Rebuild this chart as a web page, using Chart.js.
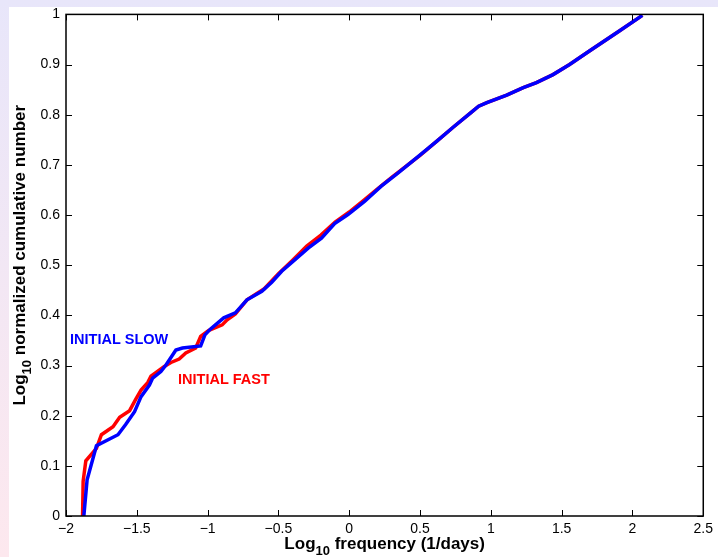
<!DOCTYPE html>
<html>
<head>
<meta charset="utf-8">
<title>Cumulative number vs frequency</title>
<script src="https://cdn.jsdelivr.net/npm/chart.js@4"></script>
<style>
    html, body { margin: 0; padding: 0; background: #ffffff; }
    #wrap { width: 718px; height: 557px; }
</style>
</head>
<body>
<div id="wrap"><canvas id="freqChart" width="718" height="557"></canvas></div>
<script>
// Tick values
const xTicks = [-2, -1.5, -1, -0.5, 0, 0.5, 1, 1.5, 2, 2.5];
const yTicks = [0, 0.1, 0.2, 0.3, 0.4, 0.5, 0.6, 0.7, 0.8, 0.9, 1];

// INITIAL SLOW (blue)
const slowX = [-1.874, -1.851, -1.785, -1.633, -1.58, -1.516, -1.47, -1.411, -1.388, -1.33,
    -1.294, -1.224, -1.178, -1.049, -1.019, -0.979, -0.886, -0.804, -0.722, -0.617,
    -0.547, -0.477, -0.383, -0.29, -0.196, -0.103, -0.009, 0.108, 0.224, 0.341,
    0.458, 0.54, 0.621, 0.738, 0.855, 0.914, 0.972, 1.112, 1.229, 1.322,
    1.439, 1.556, 1.696, 1.907, 2.07];
const slowY = [0, 0.072, 0.14, 0.162, 0.182, 0.208, 0.238, 0.261, 0.275, 0.288,
    0.301, 0.331, 0.335, 0.339, 0.361, 0.373, 0.395, 0.405, 0.431, 0.448,
    0.466, 0.488, 0.511, 0.534, 0.554, 0.583, 0.601, 0.627, 0.657, 0.683,
    0.71, 0.729, 0.748, 0.776, 0.803, 0.817, 0.824, 0.839, 0.854, 0.864,
    0.88, 0.9, 0.927, 0.967, 0.998];

// INITIAL FAST (red)
const fastX = [-1.883, -1.879, -1.86, -1.785, -1.75, -1.668, -1.621, -1.551, -1.509, -1.47,
    -1.423, -1.4, -1.306, -1.259, -1.201, -1.154, -1.084, -1.049, -0.991, -0.897,
    -0.862, -0.804, -0.722, -0.6, -0.5, -0.4, -0.3, -0.2, -0.1, 0,
    0.1, 0.2, 0.3, 0.4, 0.5, 0.621, 0.738, 0.855, 0.914, 0.972,
    1.112, 1.229, 1.322, 1.439, 1.556, 1.696, 1.907, 2.07];
const fastY = [0, 0.069, 0.11, 0.135, 0.162, 0.178, 0.197, 0.21, 0.232, 0.251,
    0.266, 0.279, 0.298, 0.306, 0.313, 0.325, 0.335, 0.358, 0.37, 0.381,
    0.391, 0.403, 0.431, 0.453, 0.483, 0.51, 0.538, 0.56, 0.586, 0.606,
    0.629, 0.652, 0.675, 0.697, 0.719, 0.748, 0.776, 0.803, 0.817, 0.824,
    0.839, 0.854, 0.864, 0.88, 0.9, 0.927, 0.967, 0.998];

const FONT = '"Liberation Sans", Arial, Helvetica, sans-serif';

const toPoints = (xs, ys) => xs.map((x, i) => ({ x: x, y: ys[i] }));
const fmt = v => String(Math.round(v * 10) / 10).replace('-', '\u2212');

// Background, frame, inward ticks, axis titles and text labels
const decorPlugin = {
    id: 'decor',
    beforeDraw(chart) {
        const ctx = chart.ctx;
        const g = ctx.createLinearGradient(0, 0, 0, chart.height);
        g.addColorStop(0, '#e8e6fa');
        g.addColorStop(1, '#fde8ee');
        ctx.save();
        ctx.fillStyle = g;
        ctx.fillRect(0, 0, chart.width, chart.height);
        ctx.fillStyle = '#ffffff';
        ctx.fillRect(9, 7, chart.width - 9, chart.height - 7);
        ctx.restore();
    },
    afterDatasetsDraw(chart) {
        const ctx = chart.ctx;
        const a = chart.chartArea;
        const xs = chart.scales.x;
        const ys = chart.scales.y;
        const tick = 6;
        ctx.save();
        ctx.strokeStyle = '#000000';
        ctx.lineWidth = 1.5;
        ctx.strokeRect(a.left, a.top, a.right - a.left, a.bottom - a.top);
        ctx.lineWidth = 1;
        ctx.beginPath();
        xTicks.forEach(v => {
            const px = Math.round(xs.getPixelForValue(v)) + 0.5;
            ctx.moveTo(px, a.bottom); ctx.lineTo(px, a.bottom - tick);
            ctx.moveTo(px, a.top); ctx.lineTo(px, a.top + tick);
        });
        yTicks.forEach(v => {
            const py = Math.round(ys.getPixelForValue(v)) + 0.5;
            ctx.moveTo(a.left, py); ctx.lineTo(a.left + tick, py);
            ctx.moveTo(a.right, py); ctx.lineTo(a.right - tick, py);
        });
        ctx.stroke();
        ctx.restore();
    },
    afterDraw(chart) {
        const ctx = chart.ctx;
        const a = chart.chartArea;
        ctx.save();
        ctx.fillStyle = '#000000';
        ctx.textBaseline = 'alphabetic';

        // x axis title with subscript
        const big = 'bold 17px ' + FONT;
        const small = 'bold 13px ' + FONT;
        ctx.font = big;
        const wLog = ctx.measureText('Log').width;
        const rest = ' frequency (1/days)';
        const wRest = ctx.measureText(rest).width;
        ctx.font = small;
        const wSub = ctx.measureText('10').width;
        let x0 = (a.left + a.right) / 2 - (wLog + wSub + wRest) / 2;
        const by = 549;
        ctx.font = big; ctx.fillText('Log', x0, by);
        ctx.font = small; ctx.fillText('10', x0 + wLog, by + 6);
        ctx.font = big; ctx.fillText(rest, x0 + wLog + wSub, by);

        // y axis title (rotated)
        ctx.save();
        ctx.translate(25, (a.top + a.bottom) / 2 - 10);
        ctx.rotate(-Math.PI / 2);
        const yrest = ' normalized cumulative number';
        ctx.font = big;
        const wYRest = ctx.measureText(yrest).width;
        x0 = -(wLog + wSub + wYRest) / 2;
        ctx.fillText('Log', x0, 0);
        ctx.font = small; ctx.fillText('10', x0 + wLog, 6);
        ctx.font = big; ctx.fillText(yrest, x0 + wLog + wSub, 0);
        ctx.restore();

        // curve labels
        ctx.font = 'bold 14.5px ' + FONT;
        ctx.textBaseline = 'middle';
        ctx.fillStyle = '#0000ff';
        ctx.fillText('INITIAL SLOW', 70, 340);
        ctx.fillStyle = '#ff0000';
        ctx.fillText('INITIAL FAST', 178, 380);
        ctx.restore();
    }
};

new Chart(document.getElementById('freqChart').getContext('2d'), {
    type: 'line',
    data: {
        datasets: [{
            label: 'INITIAL FAST',
            data: toPoints(fastX, fastY),
            borderColor: '#ff0000',
            borderWidth: 3.5,
            pointRadius: 0,
            tension: 0,
            order: 2
        }, {
            label: 'INITIAL SLOW',
            data: toPoints(slowX, slowY),
            borderColor: '#0000ff',
            borderWidth: 3.5,
            pointRadius: 0,
            tension: 0,
            order: 1
        }]
    },
    options: {
        responsive: false,
        animation: false,
        layout: { padding: { top: 14, right: 10, left: 0, bottom: 0 } },
        plugins: {
            legend: { display: false },
            tooltip: { enabled: false }
        },
        scales: {
            x: {
                type: 'linear',
                min: -2,
                max: 2.5,
                afterBuildTicks: s => { s.ticks = xTicks.map(v => ({ value: v })); },
                afterFit: s => { s.height = 41; },
                grid: { display: false, drawTicks: false },
                border: { display: false },
                ticks: {
                    padding: 5,
                    color: '#000000',
                    font: { family: FONT, size: 14 },
                    maxRotation: 0,
                    callback: v => fmt(v)
                }
            },
            y: {
                type: 'linear',
                min: 0,
                max: 1,
                afterBuildTicks: s => { s.ticks = yTicks.map(v => ({ value: v })); },
                afterFit: s => { s.width = 66; },
                grid: { display: false, drawTicks: false },
                border: { display: false },
                ticks: {
                    padding: 6,
                    color: '#000000',
                    font: { family: FONT, size: 14 },
                    callback: v => fmt(v)
                }
            }
        }
    },
    plugins: [decorPlugin]
});
</script>
</body>
</html>
